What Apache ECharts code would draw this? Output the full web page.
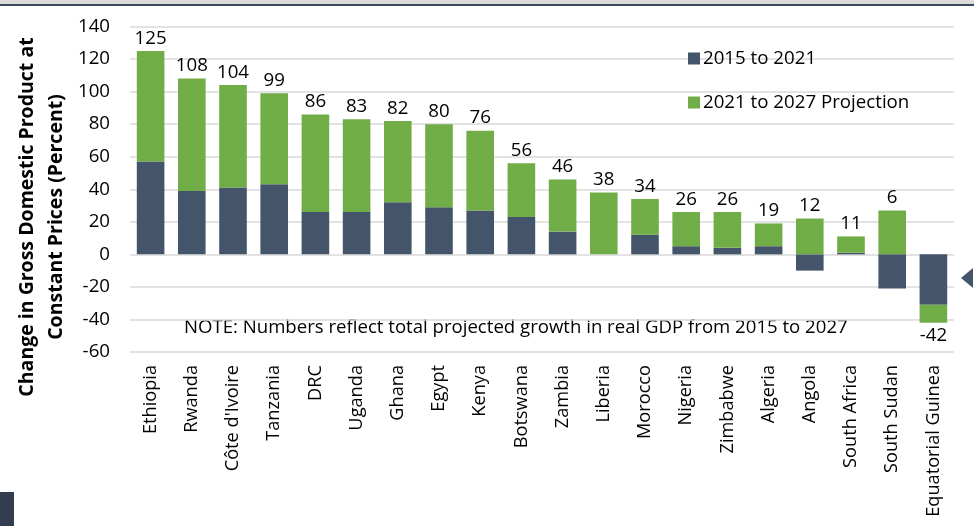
<!DOCTYPE html>
<html>
<head>
<meta charset="utf-8">
<script src="https://cdn.jsdelivr.net/npm/echarts@6/dist/echarts.min.js"></script>
<style>
  html, body { margin: 0; padding: 0; background: #ffffff; }
  #chart { width: 974px; height: 526px; }
</style>
</head>
<body>
<div id="chart"></div>
<script>
// African economies: real GDP growth, 2015-2021 actual and 2021-2027 projected (percent)
const countries = ['Ethiopia', 'Rwanda', "Côte d'Ivoire", 'Tanzania', 'DRC', 'Uganda', 'Ghana', 'Egypt',
  'Kenya', 'Botswana', 'Zambia', 'Liberia', 'Morocco', 'Nigeria', 'Zimbabwe', 'Algeria', 'Angola',
  'South Africa', 'South Sudan', 'Equatorial Guinea'];

// Total growth 2015-2027 (labelled above / below each bar)
const totalGrowth = [125, 108, 104, 99, 86, 83, 82, 80, 76, 56, 46, 38, 34, 26, 26, 19, 12, 11, 6, -42];

// Growth 2015-2021
const growth2015to2021 = [57, 39, 41, 43, 26, 26, 32, 29, 27, 23, 14, 0, 12, 5, 4, 5, -10, 1, -21, -31];

// Projected growth 2021-2027 = total minus the realised part
const growth2021to2027 = totalGrowth.map((t, i) => t - growth2015to2021[i]);

const yTicks = { min: -60, max: 140, step: 20 };

const FONT = '"Open Sans", "Noto Sans", sans-serif';
const DARK = '#44546a';
const GREEN = '#70ad47';

const chart = echarts.init(document.getElementById('chart'));

chart.setOption({
  animation: false,
  backgroundColor: '#ffffff',
  textStyle: { fontFamily: FONT },
  grid: { left: 130, right: 20, top: 26.5, bottom: 174, containLabel: false },
  legend: {
    orient: 'vertical',
    left: 683,
    top: 44,
    itemWidth: 12,
    itemHeight: 12,
    itemGap: 25,
    icon: 'rect',
    textStyle: { fontFamily: FONT, fontSize: 18.7, color: '#000', lineHeight: 18, padding: [0, 0, 0, -2] },
    data: ['2015 to 2021', '2021 to 2027 Projection']
  },
  xAxis: {
    type: 'category',
    data: countries,
    axisLine: { show: false },
    axisTick: { show: false },
    axisLabel: {
      rotate: 90,
      interval: 0,
      margin: 13,
      fontFamily: FONT,
      fontSize: 18.2,
      color: '#000'
    }
  },
  yAxis: {
    type: 'value',
    min: yTicks.min,
    max: yTicks.max,
    interval: yTicks.step,
    axisLine: { show: false },
    axisTick: { show: false },
    axisLabel: { fontFamily: FONT, fontSize: 18.7, color: '#000', margin: 20 },
    splitLine: { lineStyle: { color: '#d9d9d9', width: 1.5 } }
  },
  series: [
    {
      name: '2015 to 2021',
      type: 'bar',
      stack: 'gdp',
      data: growth2015to2021,
      barCategoryGap: '33%',
      itemStyle: { color: DARK }
    },
    {
      name: '2021 to 2027 Projection',
      type: 'bar',
      stack: 'gdp',
      barCategoryGap: '33%',
      itemStyle: { color: GREEN },
      data: growth2021to2027.map((v, i) => ({
        value: v,
        label: {
          show: true,
          position: totalGrowth[i] < 0 ? 'bottom' : 'top',
          distance: 3,
          formatter: () => String(totalGrowth[i]),
          fontFamily: FONT,
          fontSize: 18.7,
          color: '#000'
        }
      }))
    }
  ],
  graphic: [
    // slide frame pieces
    { type: 'rect', shape: { x: 0, y: 0, width: 974, height: 4 }, style: { fill: '#dcdcdc' }, silent: true },
    { type: 'rect', shape: { x: 0, y: 4, width: 974, height: 2 }, style: { fill: '#3b4a5a' }, silent: true },
    { type: 'rect', shape: { x: 0, y: 492, width: 14, height: 34 }, style: { fill: '#323e4f' }, silent: true },
    { type: 'polygon', shape: { points: [[961, 278], [973, 268], [973, 288]] }, style: { fill: '#44546a' }, silent: true },
    // vertical axis title
    {
      type: 'text',
      x: 42,
      y: 217,
      rotation: Math.PI / 2,
      style: {
        text: 'Change in Gross Domestic Product at\nConstant Prices (Percent)',
        font: 'bold 19.5px ' + FONT,
        fill: '#000',
        textAlign: 'center',
        textVerticalAlign: 'middle',
        lineHeight: 29
      }
    },
    // footnote inside plot
    {
      type: 'text',
      x: 184,
      y: 328,
      style: {
        text: 'NOTE: Numbers reflect total projected growth in real GDP from 2015 to 2027',
        font: '18.6px ' + FONT,
        fill: '#000',
        textAlign: 'left',
        textVerticalAlign: 'middle'
      }
    }
  ]
});
</script>
</body>
</html>
